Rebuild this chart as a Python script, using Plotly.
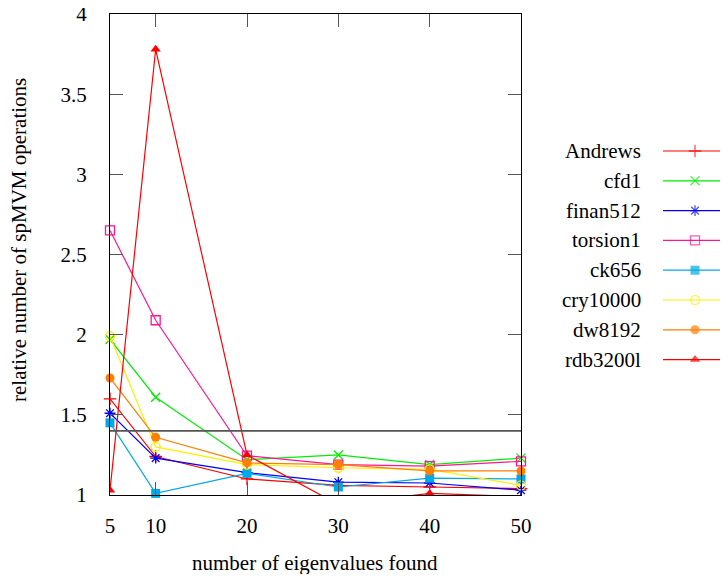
import plotly.graph_objects as go

# ---- data ----
eigenvalues = [5, 10, 20, 30, 40, 50]
andrews = [1.60, 1.24, 1.10, 1.06, 1.05, 1.04]
cfd1 = [1.97, 1.61, 1.22, 1.25, 1.19, 1.23]
finan512 = [1.51, 1.23, 1.14, 1.08, 1.075, 1.03]
torsion1 = [2.65, 2.09, 1.245, 1.19, 1.18, 1.21]
ck656 = [1.45, 1.01, 1.135, 1.05, 1.105, 1.10]
cry10000 = [1.99, 1.30, 1.19, 1.17, 1.16, 1.06]
dw8192 = [1.73, 1.36, 1.20, 1.19, 1.15, 1.15]
rdb3200l = [1.03, 3.78, 1.25, 0.94, 1.01, 0.99]
threshold = 1.4

y_ticks = [1, 1.5, 2, 2.5, 3, 3.5, 4]
y_ticktext = ["1", "1.5", "2", "2.5", "3", "3.5", "4"]

series = [
    ("Andrews", andrews, "#ff0000", "cross-thin-open", True),
    ("cfd1", cfd1, "#00ee00", "x-thin-open", True),
    ("finan512", finan512, "#0000ff", "asterisk-open", True),
    ("torsion1", torsion1, "#ff1493", "square-open", True),
    ("ck656", ck656, "#00a8e8", "square", True),
    ("cry10000", cry10000, "#ffee00", "circle-open", True),
    ("dw8192", dw8192, "#ff7f00", "circle", True),
    ("rdb3200l", rdb3200l, "#ff0000", "triangle-up", False),
]

FONT = "Liberation Serif"
FS = 21
OFF = 8  # default page body margin
W, H = 712, 566
# plot box in page pixels: left 110, right 521, top 14, bottom 495
ML, MT = 110 - OFF, 14 - OFF
MR = 0
MB = H - (495 - OFF)
PLOT_W = 521 - 110
INNER_W = W - ML - MR
INNER_H = H - MT - MB
X2_MAX = OFF + W  # page pixel of right figure edge


def px_to_paper(px, py):
    """page pixel -> paper coordinates"""
    return (px - OFF - ML) / INNER_W, 1 - (py - OFF - MT) / INNER_H


fig = go.Figure()

for name, vals, col, sym, noclip in series:
    thin = sym.endswith("-open")
    fig.add_trace(go.Scatter(
        x=eigenvalues, y=vals, mode="lines+markers", name=name,
        line=dict(color=col, width=1.2),
        marker=dict(symbol=sym, size=9, color=col,
                    line=dict(color=col, width=1.3 if thin else 0)),
        cliponaxis=not noclip, showlegend=False,
    ))

# legend drawn in an overlay axis scaled in page pixels
LEG_Y0, LEG_DY = 151, 29.8
LEG_LX0, LEG_MX, LEG_TX = 663, 695, 643
annotations = []
for i, (name, vals, col, sym, noclip) in enumerate(series):
    ry = LEG_Y0 + i * LEG_DY
    thin = sym.endswith("-open")
    fig.add_trace(go.Scatter(
        x=[LEG_LX0, LEG_MX, X2_MAX], y=[ry, ry, ry], mode="lines+markers",
        xaxis="x2", yaxis="y2", showlegend=False, hoverinfo="skip",
        line=dict(color=col, width=1.2),
        marker=dict(symbol=sym, size=[0, 9, 0], color=col,
                    line=dict(color=col, width=1.3 if thin else 0)),
        cliponaxis=False,
    ))
    annotations.append(dict(x=LEG_TX, y=ry, xref="x2", yref="y2", text=name,
                            showarrow=False, xanchor="right", yanchor="middle",
                            font=dict(family=FONT, size=FS, color="black")))

xt_x, xt_y = px_to_paper(315, 563)
annotations.append(dict(x=xt_x, y=xt_y, xref="paper", yref="paper",
                        text="number of eigenvalues found", showarrow=False,
                        xanchor="center", yanchor="middle",
                        font=dict(family=FONT, size=FS, color="black")))
yt_x, yt_y = px_to_paper(19, 240)
annotations.append(dict(x=yt_x, y=yt_y, xref="paper", yref="paper",
                        text="relative number of spMVM operations", showarrow=False,
                        textangle=-90, xanchor="center", yanchor="middle",
                        font=dict(family=FONT, size=FS, color="black")))

axis_common = dict(ticks="inside", ticklen=13, tickcolor="#555555", tickwidth=1,
                   mirror="allticks", showline=True, linecolor="black", linewidth=1,
                   showgrid=False, zeroline=False, automargin=False,
                   ticklabeloverflow="allow",
                   tickfont=dict(family=FONT, size=FS, color="black"))

fig.update_layout(
    width=W, height=H, autosize=False,
    margin=dict(l=ML, r=MR, t=MT, b=MB, pad=0),
    paper_bgcolor="white", plot_bgcolor="rgba(0,0,0,0)",
    xaxis=dict(domain=[0, PLOT_W / INNER_W], range=[5, 50],
               tickvals=eigenvalues, ticklabelstandoff=12, **axis_common),
    yaxis=dict(range=[1, 4], tickvals=y_ticks, ticktext=y_ticktext,
               ticklabelstandoff=18, **axis_common),
    xaxis2=dict(domain=[0, 1], range=[110, X2_MAX], visible=False, anchor="y2",
                fixedrange=True, automargin=False),
    yaxis2=dict(domain=[0, 1], range=[495, 14], visible=False, anchor="x2",
                fixedrange=True, automargin=False),
    shapes=[dict(type="line", xref="x domain", yref="y", x0=0, x1=1,
                 y0=threshold, y1=threshold, line=dict(color="#555555", width=1.6))],
    annotations=annotations,
    showlegend=False,
)

fig.write_html("out.html", config={"displayModeBar": False})
